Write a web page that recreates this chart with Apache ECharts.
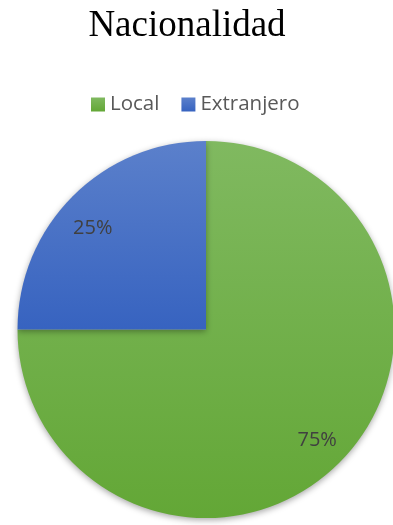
<!DOCTYPE html>
<html><head><meta charset="utf-8">
<script src="https://cdn.jsdelivr.net/npm/echarts@6/dist/echarts.min.js"></script>
<style>html,body{margin:0;padding:0;background:#fff}#c{width:393px;height:525px}</style>
</head><body><div id="c"></div>
<script>
const title = 'Nacionalidad';
const categories = ['Local', 'Extranjero'];
const values = [75, 25];
const labels = ['75%', '25%'];
const colors = [['#80b960', '#63a736'], ['#5b80cb', '#3763c0']];

const chart = echarts.init(document.getElementById('c'), null, {renderer: 'canvas'});
const grad = (c) => new echarts.graphic.LinearGradient(0, 0, 0, 1, [{offset: 0, color: c[0]}, {offset: 1, color: c[1]}]);
const data = categories.map((n, i) => ({name: n, value: values[i], itemStyle: {color: grad(colors[i])}}));
const labelOffsets = [[0, 0], [-2, 10]];
const labelData = categories.map((n, i) => ({name: n, value: values[i], label: {formatter: labels[i], offset: labelOffsets[i]}}));
chart.setOption({
  animation: false,
  title: {text: title, left: 182, top: 3, textAlign: 'center',
    textStyle: {fontFamily: 'Liberation Serif', fontWeight: 'normal', fontSize: 37, color: '#000'}},
  legend: {data: categories, top: 89, left: 86, itemWidth: 14, itemHeight: 14, itemGap: 22,
    icon: 'rect', textStyle: {fontFamily: 'Open Sans', fontSize: 20.5, color: '#595959', padding: [0, 0, 0, 0]}},
  series: [{
    type: 'pie', center: [206, 329.5], radius: [0, 188.5], startAngle: 90, clockwise: true,
    silent: true, label: {show: false}, labelLine: {show: false},
    itemStyle: {shadowBlur: 6, shadowColor: 'rgba(0,0,0,0.35)', shadowOffsetY: 2},
    data: data
  }, {
    type: 'pie', center: [206, 329.5], radius: [120, 188.5], startAngle: 90, clockwise: true,
    silent: true, itemStyle: {color: 'rgba(0,0,0,0)'},
    label: {show: true, position: 'inside', fontFamily: 'Open Sans', fontSize: 20, color: '#404040'},
    labelLine: {show: false},
    data: labelData
  }]
});
</script></body></html>
